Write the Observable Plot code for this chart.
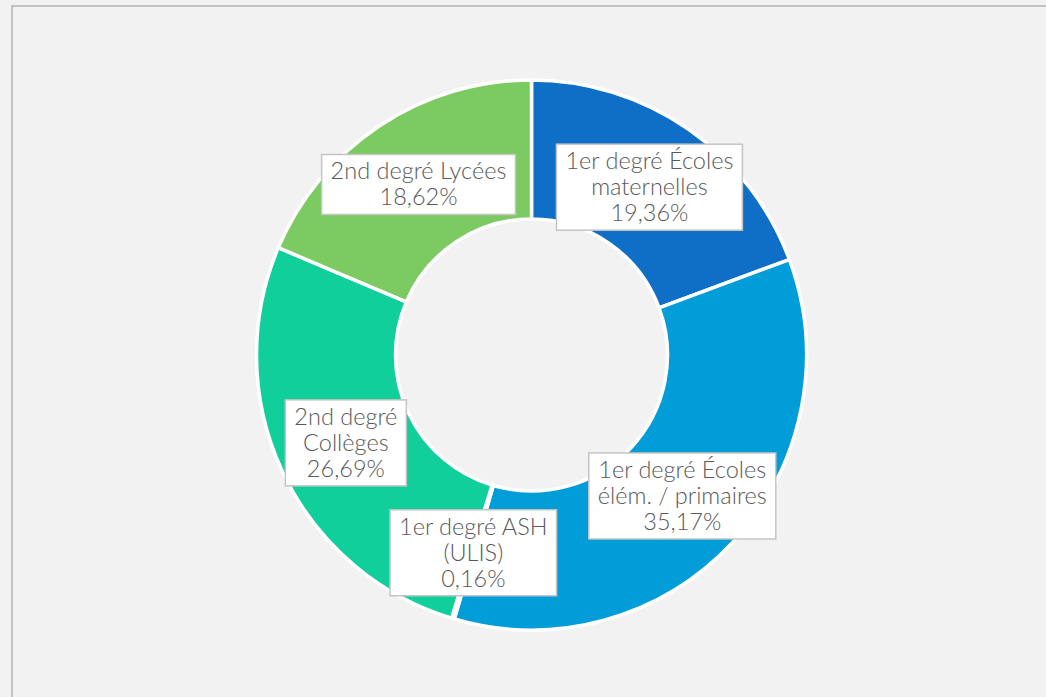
<!DOCTYPE html>
<html>
<head>
<meta charset="utf-8">
<script src="https://cdn.jsdelivr.net/npm/d3@7"></script>
<script src="https://cdn.jsdelivr.net/npm/@observablehq/plot@0.6"></script>
<style>
  html, body { margin: 0; padding: 0; background: #f2f2f2; overflow: hidden; }
  #chart { width: 1046px; height: 697px; }
  svg { display: block; }
</style>
</head>
<body>
<div id="chart"></div>
<script>
// ---- data ----
const categories = [
  "1er degré Écoles maternelles",
  "1er degré Écoles élém. / primaires",
  "1er degré ASH (ULIS)",
  "2nd degré Collèges",
  "2nd degré Lycées"
];
const labelNames = [
  "1er degré Écoles\nmaternelles",
  "1er degré Écoles\nélém. / primaires",
  "1er degré ASH\n(ULIS)",
  "2nd degré\nCollèges",
  "2nd degré Lycées"
];
const shares = [19.36, 35.17, 0.16, 26.69, 18.62];
const colors = ["#0f6fc6", "#009dd9", "#0bd0d9", "#10cf9b", "#7cca62"];

// ---- layout constants ----
const W = 1046, H = 697;
const CX = 531.5, CY = 355;
const R_OUT = 275, R_IN = 136;
const FONT = 23.5, LINE = 26;

const data = categories.map((c, i) => ({category: c, label: labelNames[i], value: shares[i], color: colors[i]}));
const pie = d3.pie().sort(null).value(d => d.value)(data);
const arcGen = d3.arc().innerRadius(R_IN).outerRadius(R_OUT);
const labelArc = d3.arc().innerRadius((R_IN + R_OUT) / 2).outerRadius((R_IN + R_OUT) / 2);
const fmt = v => v.toFixed(2).replace(".", ",") + "%";
const labels = pie.map(a => {
  const [dx, dy] = labelArc.centroid(a);
  const text = a.data.label + "\n" + fmt(a.data.value);
  return {x: CX + dx, y: CY + dy, text, lines: text.split("\n").length};
});

const donut = (index, scales) => {
  const g = d3.create("svg:g")
    .attr("transform", `translate(${scales.x(CX)},${scales.y(CY)})`);
  g.selectAll("path").data(pie).join("path")
    .attr("d", arcGen)
    .attr("fill", d => d.data.color)
    .attr("stroke", "#ffffff")
    .attr("stroke-width", 3.5)
    .attr("stroke-linejoin", "round");
  return g.node();
};

const plot = Plot.plot({
  width: W,
  height: H,
  margin: 0,
  style: {background: "#f2f2f2", overflow: "visible"},
  x: {domain: [0, W], range: [0, W], axis: null},
  y: {domain: [0, H], range: [0, H], axis: null},
  marks: [
    Plot.ruleY([5.5], {x1: 11, x2: W, stroke: "#c2c2c2", strokeWidth: 2}),
    Plot.ruleX([11.5], {y1: 5, y2: H, stroke: "#c2c2c2", strokeWidth: 2}),
    donut,
    Plot.text(labels, {
      x: "x", y: "y", text: "text",
      fontSize: FONT, lineHeight: LINE / FONT,
      fill: "#595959",
      fontFamily: "Lato, 'Open Sans', sans-serif",
      fontWeight: 300,
      className: "lbl"
    })
  ]
});
document.getElementById("chart").appendChild(plot);

// white boxes behind labels
const texts = plot.querySelectorAll(".lbl text");
texts.forEach((t, i) => {
  const b = t.getBBox();
  const padX = 9;
  const h = labels[i].lines * LINE + 8;
  const cy = plot.querySelector("svg") ? 0 : 0;
  const midY = b.y + b.height / 2 + 1;
  const r = document.createElementNS("http://www.w3.org/2000/svg", "rect");
  r.setAttribute("x", b.x - padX);
  r.setAttribute("y", midY - h / 2);
  r.setAttribute("width", b.width + 2 * padX);
  r.setAttribute("height", h);
  r.setAttribute("fill", "#ffffff");
  r.setAttribute("stroke", "#c4c4c4");
  r.setAttribute("stroke-width", 1.5);
  const tr = t.getAttribute("transform");
  if (tr) r.setAttribute("transform", tr);
  t.parentNode.insertBefore(r, t);
});
</script>
</body>
</html>
